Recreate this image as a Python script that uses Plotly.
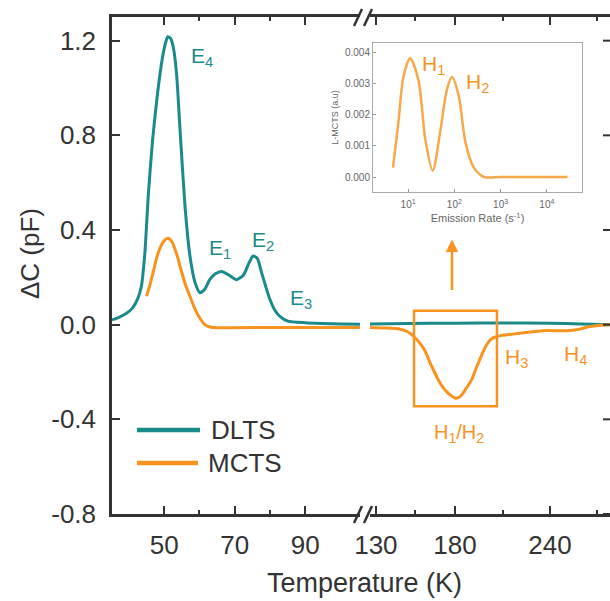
import math
import plotly.graph_objects as go

# ---------------- data ----------------
T_dlts_low = [35.2, 37, 39, 41, 42.5, 43.5, 44.5, 45.5, 46.7, 47.9, 49.2, 50.2, 51.0, 51.8,
              52.6, 53.5, 54.5, 55.9, 57.3, 58.7, 60.1, 61.5, 62.9, 64.5, 66.3, 68.3, 70.5,
              72.5, 74.0, 75.2, 76.4, 77.6, 78.8, 80.0, 81.4, 82.8, 85, 90, 95, 100, 105.5]
dlts_low = [0.02, 0.03, 0.045, 0.07, 0.11, 0.16, 0.30, 0.55, 0.78, 0.95, 1.10, 1.18, 1.217, 1.21,
            1.17, 1.06, 0.82, 0.50, 0.29, 0.18, 0.135, 0.15, 0.19, 0.215, 0.225, 0.21, 0.19,
            0.21, 0.26, 0.29, 0.28, 0.22, 0.16, 0.105, 0.06, 0.035, 0.015, 0.008, 0.005, 0.003, 0.002]

T_mcts_low = [45, 46, 47, 48, 49, 50, 51.1, 52.2, 53.5, 54.8, 56, 57.3, 58.6, 60, 61.5, 63, 65,
              70, 80, 90, 100, 105.5]
mcts_low = [0.12, 0.17, 0.23, 0.29, 0.33, 0.355, 0.365, 0.35, 0.30, 0.23, 0.17, 0.12, 0.07, 0.03,
            0.0, -0.01, -0.013, -0.013, -0.012, -0.012, -0.012, -0.012]

T_dlts_high = [126.3, 150, 180, 210, 240, 260, 278]
dlts_high = [0.003, 0.005, 0.006, 0.007, 0.006, 0.003, 0.0]

T_mcts_high = [126.3, 135, 145, 150, 154, 158, 161, 164.2, 167, 170, 173, 175, 177.5, 180, 181.3,
               183, 185, 187.5, 190.7, 193, 195.5, 197.7, 200, 203, 206.5, 210, 216.6, 225, 232,
               238, 245, 250.7, 258, 265, 272, 278]
mcts_high = [-0.012, -0.014, -0.018, -0.03, -0.05, -0.08, -0.11, -0.16, -0.2, -0.24, -0.27, -0.285,
             -0.30, -0.31, -0.31, -0.305, -0.29, -0.265, -0.23, -0.19, -0.15, -0.115, -0.085, -0.06,
             -0.05, -0.045, -0.04, -0.033, -0.028, -0.025, -0.026, -0.026, -0.02, -0.008, -0.002, 0.0]

rate_inset = [4.7, 6.2, 7.9, 11, 16.7, 23.5, 34, 50, 69, 89, 124, 174, 263, 436, 1000, 5000, 28000]
lmcts_inset = [0.0003, 0.0018, 0.0032, 0.0038, 0.0031, 0.0012, 0.0002, 0.0015, 0.0028, 0.0032,
               0.0026, 0.0011, 0.0003, 0.0, 0.0, 0.0, 0.0]

x_ticks_low = [50, 70, 90]
x_minor_low = [60, 80]
x_ticks_high = [130, 180, 240]
x_minor_high = [155, 210, 270]
y_ticks = [-0.8, -0.4, 0.0, 0.4, 0.8, 1.2]
y_ticklabels = ["-0.8", "-0.4", "0.0", "0.4", "0.8", "1.2"]
inset_xticks = [10, 100, 1000, 10000]
inset_xticklabels = ["10<sup>1</sup>", "10<sup>2</sup>", "10<sup>3</sup>", "10<sup>4</sup>"]
inset_yticks = [0.0, 0.001, 0.002, 0.003, 0.004]
inset_yticklabels = ["0.000", "0.001", "0.002", "0.003", "0.004"]

# ---------------- style ----------------
TEAL = "#1b8a8a"
ORANGE = "#f7931e"
INK = "#333333"
GREY = "#666666"
FONT = "Arial, Liberation Sans, sans-serif"

W, H = 610, 601
L, R, T, B = 112, 0, 17, 87
PW, PH = W - L - R, H - T - B


def px(x):
    return (x - L) / PW


def py(y):
    return (H - B - y) / PH


fig = go.Figure()
line_t = dict(color=TEAL, width=3, shape="spline", smoothing=0.6)
line_o = dict(color=ORANGE, width=3, shape="spline", smoothing=0.6)
fig.add_trace(go.Scatter(x=T_dlts_low, y=dlts_low, xaxis="x", yaxis="y", mode="lines",
                         line=line_t, name="DLTS", showlegend=False))
fig.add_trace(go.Scatter(x=T_mcts_low, y=mcts_low, xaxis="x", yaxis="y", mode="lines",
                         line=line_o, name="MCTS", showlegend=False))
fig.add_trace(go.Scatter(x=T_dlts_high, y=dlts_high, xaxis="x2", yaxis="y", mode="lines",
                         line=line_t, name="DLTS", showlegend=False))
fig.add_trace(go.Scatter(x=T_mcts_high, y=mcts_high, xaxis="x2", yaxis="y", mode="lines",
                         line=line_o, name="MCTS", showlegend=False))
fig.add_trace(go.Scatter(x=rate_inset, y=lmcts_inset, xaxis="x3", yaxis="y3", mode="lines",
                         line=dict(color=ORANGE, width=2.5, shape="spline", smoothing=0.8),
                         opacity=0.8, showlegend=False))

xcommon = dict(showline=True, linecolor=INK, linewidth=2.5, mirror="ticks", ticks="inside",
               ticklen=8, tickwidth=2, tickcolor=INK, showgrid=False, zeroline=False,
               tickfont=dict(size=26, color=INK, family=FONT), anchor="y",
               ticklabelstandoff=6)

fig.update_layout(
    width=W, height=H, margin=dict(l=L, r=R, t=T, b=B),
    paper_bgcolor="white", plot_bgcolor="white",
    font=dict(family=FONT, color=INK),
    xaxis=dict(domain=[0, px(360)], range=[35.2, 105.5], tickvals=x_ticks_low,
               minor=dict(tickvals=x_minor_low, ticks="inside", ticklen=4, tickwidth=2,
                          tickcolor=INK), **xcommon),
    xaxis2=dict(domain=[px(370), 1], range=[126.3, 277.9], tickvals=x_ticks_high,
                minor=dict(tickvals=x_minor_high, ticks="inside", ticklen=4, tickwidth=2,
                           tickcolor=INK), **xcommon),
    yaxis=dict(domain=[0, 1], range=[-0.8, 1.3], tickvals=y_ticks, ticktext=y_ticklabels,
               showline=True, linecolor=INK, linewidth=2.5, ticks="inside", ticklen=8,
               tickwidth=2, tickcolor=INK, showgrid=False, zeroline=False, anchor="x",
               tickfont=dict(size=26, color=INK, family=FONT), ticklabelstandoff=8),
    xaxis3=dict(domain=[px(373), px(582)], type="log", range=[0.24, 4.76], anchor="y3",
                tickvals=inset_xticks, ticktext=inset_xticklabels, showline=True, mirror=True,
                linecolor="#aaaaaa", linewidth=1, ticks="inside", ticklen=3, tickcolor="#999999",
                showgrid=False, zeroline=False, tickfont=dict(size=10, color=GREY, family=FONT),
                ticklabelstandoff=3,
                title=dict(text="Emission Rate (s<sup>-1</sup>)", font=dict(size=11, color=GREY),
                           standoff=5)),
    yaxis3=dict(domain=[py(192), py(43)], range=[-0.00048, 0.00429], anchor="x3",
                tickvals=inset_yticks, ticktext=inset_yticklabels, showline=True, mirror=True,
                linecolor="#aaaaaa", linewidth=1, ticks="inside", ticklen=3, tickcolor="#999999",
                showgrid=False, zeroline=False, tickfont=dict(size=10, color=GREY, family=FONT),
                title=dict(text="L-MCTS (a.u)", font=dict(size=9, color=GREY), standoff=4)),
)

shapes = []
# axis break marks
for ytop, ybot in [(26, 9), (523, 506)]:
    for x0 in (354, 364):
        shapes.append(dict(type="line", xref="paper", yref="paper", x0=px(x0), y0=py(ytop),
                           x1=px(x0 + 8), y1=py(ybot), line=dict(color=INK, width=2.5)))
# right-hand y ticks (axis itself lies just outside the picture)
for v in y_ticks:
    shapes.append(dict(type="line", xref="paper", yref="y", x0=px(603), x1=1.0, y0=v, y1=v,
                       line=dict(color=INK, width=2)))
# H1/H2 box
shapes.append(dict(type="rect", xref="x2", yref="y", x0=154.1, x1=206.5, y0=-0.345, y1=0.059,
                   line=dict(color=ORANGE, width=2.5)))
# manual legend lines
shapes.append(dict(type="line", xref="paper", yref="paper", x0=px(137), x1=px(200),
                   y0=py(430), y1=py(430), line=dict(color=TEAL, width=4.5)))
shapes.append(dict(type="line", xref="paper", yref="paper", x0=px(137), x1=px(198),
                   y0=py(463), y1=py(463), line=dict(color=ORANGE, width=4.5)))
fig.update_layout(shapes=shapes)

ann = []


def label(text, x, y, color, size, xref="x", yref="y", xanchor="left"):
    ann.append(dict(text=text, x=x, y=y, xref=xref, yref=yref, showarrow=False,
                    xanchor=xanchor, yanchor="middle", font=dict(size=size, color=color, family=FONT)))


label("E<sub>4</sub>", 57.0, 1.13, TEAL, 21)
label("E<sub>1</sub>", 62.1, 0.32, TEAL, 21)
label("E<sub>2</sub>", 74.3, 0.355, TEAL, 21)
label("E<sub>3</sub>", 85.1, 0.11, TEAL, 21)
label("H<sub>3</sub>", 210.3, -0.14, ORANGE, 21, xref="x2")
label("H<sub>4</sub>", 247.6, -0.13, ORANGE, 21, xref="x2")
label("H<sub>1</sub>/H<sub>2</sub>", 165.5, -0.46, ORANGE, 20, xref="x2")
# inset labels (log axis: annotation x given as log10 of the rate)
label("H<sub>1</sub>", math.log10(18), 0.0036, ORANGE, 21, xref="x3", yref="y3")
label("H<sub>2</sub>", math.log10(160), 0.0030, ORANGE, 21, xref="x3", yref="y3")
label("DLTS", px(209), py(430), INK, 26, xref="paper", yref="paper")
label("MCTS", px(206), py(463), INK, 26, xref="paper", yref="paper")
ann.append(dict(text="Temperature (K)", x=px(364), y=py(583), xref="paper", yref="paper",
                showarrow=False, xanchor="center", yanchor="middle",
                font=dict(size=27, color=INK, family=FONT)))
ann.append(dict(text="ΔC (pF)", x=px(30), y=py(254), xref="paper", yref="paper", textangle=-90,
                showarrow=False, xanchor="center", yanchor="middle",
                font=dict(size=26, color=INK, family=FONT)))
# arrow from box toward inset
ann.append(dict(text="", x=178.1, y=0.36, xref="x2", yref="y", showarrow=True, ax=0, ay=52,
                arrowhead=2, arrowsize=1, arrowwidth=2.5, arrowcolor=ORANGE))
fig.update_layout(annotations=ann)

fig.write_html("out.html")
